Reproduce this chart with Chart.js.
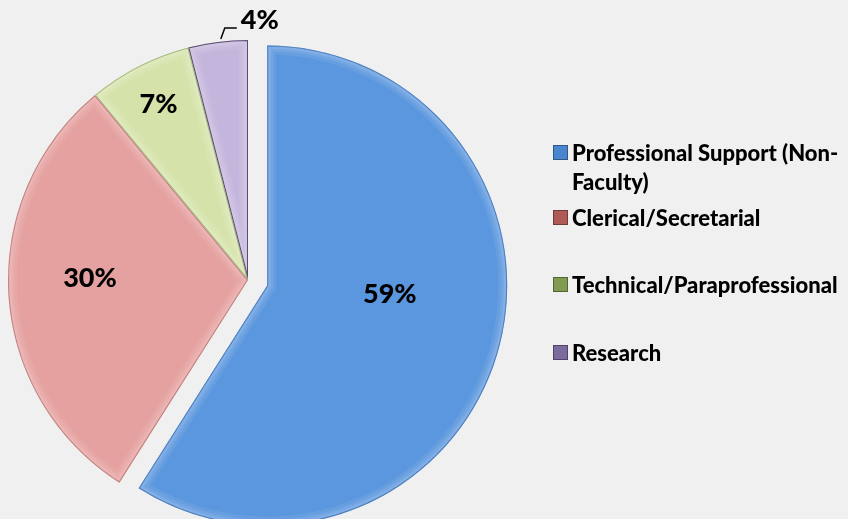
<!DOCTYPE html>
<html>
<head>
<meta charset="utf-8">
<script src="https://cdn.jsdelivr.net/npm/chart.js@4.4.0/dist/chart.umd.min.js"></script>
<style>
  html, body { margin: 0; padding: 0; background: #f0f0f0; }
  #wrap { position: relative; width: 848px; height: 519px; overflow: hidden; }
  #legend { position: absolute; left: 553px; top: 0; width: 295px; font: 900 22px Lato, sans-serif; color: #000; }
  .item { position: absolute; left: 0; display: flex; align-items: flex-start; }
  .swatch { width: 15px; height: 15px; margin-top: 7px; margin-right: 4px; flex: none; box-sizing: border-box; border: 1px solid rgba(0,0,0,0.35); }
  .txt { width: 276px; line-height: 29px; }
</style>
</head>
<body>
<div id="wrap">
  <canvas id="pie" width="848" height="519"></canvas>
  <div id="legend"></div>
</div>
<script>
const categories = ['Professional Support (Non-Faculty)', 'Clerical/Secretarial', 'Technical/Paraprofessional', 'Research'];
const shares = [59, 30, 7, 4];
const pctLabels = ['59%', '30%', '7%', '4%'];

const fills = ['#5b97de', '#e5a19f', '#d5e3aa', '#c4b5dc'];
const edges = ['#3f72b5', '#b87471', '#97ad6c', '#3a2d52'];
const swatches = ['#4a86d0', '#b05a58', '#819c50', '#7d6a9e'];

// legend rows (top of each row, px)
const rowTop = [138, 203, 270, 338];
const legend = document.getElementById('legend');
categories.forEach((c, i) => {
    const it = document.createElement('div');
    it.className = 'item';
    it.style.top = rowTop[i] + 'px';
    it.innerHTML = '<span class="swatch" style="background:' + swatches[i] + '"></span><span class="txt">' + c + '</span>';
    legend.appendChild(it);
});

const R = 240;
const explode = 20;

// pull the first slice out along its middle angle
const explodePlugin = {
    id: 'explode',
    afterDatasetsUpdate(chart) {
        const arc = chart.getDatasetMeta(0).data[0];
        const mid = (arc.startAngle + arc.endAngle) / 2;
        arc.x += Math.cos(mid) * explode;
        arc.y += Math.sin(mid) * explode;
    }
};

// soft bevel on each slice
const bevelPlugin = {
    id: 'bevel',
    afterDatasetsDraw(chart) {
        const ctx = chart.ctx;
        chart.getDatasetMeta(0).data.forEach((arc, i) => {
            ctx.save();
            ctx.beginPath();
            ctx.moveTo(arc.x, arc.y);
            ctx.arc(arc.x, arc.y, arc.outerRadius, arc.startAngle, arc.endAngle);
            ctx.closePath();
            ctx.clip();
            ctx.lineJoin = 'round';
            [[18, 0.07], [12, 0.08], [7, 0.1]].forEach(([w, a]) => {
                ctx.strokeStyle = 'rgba(255,255,255,' + a + ')';
                ctx.lineWidth = w;
                ctx.stroke();
            });
            ctx.globalAlpha = 0.8;
            ctx.strokeStyle = edges[i];
            ctx.lineWidth = 2;
            ctx.stroke();
            ctx.restore();
        });
    }
};

const labelR = [123, 158, 197, 0];
const labelShift = [-12, 4.3, 0, 0];

const labelPlugin = {
    id: 'pctLabels',
    afterDatasetsDraw(chart) {
        const ctx = chart.ctx;
        ctx.save();
        ctx.font = '900 27px Lato, sans-serif';
        ctx.fillStyle = '#000';
        ctx.textBaseline = 'middle';
        chart.getDatasetMeta(0).data.forEach((arc, i) => {
            const mid = (arc.startAngle + arc.endAngle) / 2;
            if (i === 3) {
                // small slice: label outside with leader line
                const sx = arc.x + Math.cos(mid) * (arc.outerRadius + 1);
                const sy = arc.y + Math.sin(mid) * (arc.outerRadius + 1);
                ctx.strokeStyle = '#000';
                ctx.lineWidth = 1.5;
                ctx.beginPath();
                ctx.moveTo(sx + 3, sy - 2);
                ctx.lineTo(sx + 7, sy - 13);
                ctx.lineTo(sx + 19, sy - 13);
                ctx.stroke();
                ctx.textAlign = 'left';
                ctx.fillText(pctLabels[i], sx + 23, sy - 21);
                return;
            }
            const a = mid + labelShift[i] * Math.PI / 180;
            ctx.textAlign = 'center';
            ctx.fillText(pctLabels[i], arc.x + Math.cos(a) * labelR[i], arc.y + Math.sin(a) * labelR[i]);
        });
        ctx.restore();
    }
};

new Chart(document.getElementById('pie'), {
    type: 'pie',
    data: {
        labels: categories,
        datasets: [{
            data: shares,
            backgroundColor: fills,
            borderColor: edges,
            borderWidth: 0,
            clip: false
        }]
    },
    options: {
        responsive: false,
        animation: false,
        radius: R,
        layout: { padding: { left: 0, right: 352, top: 41, bottom: 0 } },
        plugins: {
            legend: { display: false },
            tooltip: { enabled: false }
        }
    },
    plugins: [explodePlugin, bevelPlugin, labelPlugin]
});
</script>
</body>
</html>
